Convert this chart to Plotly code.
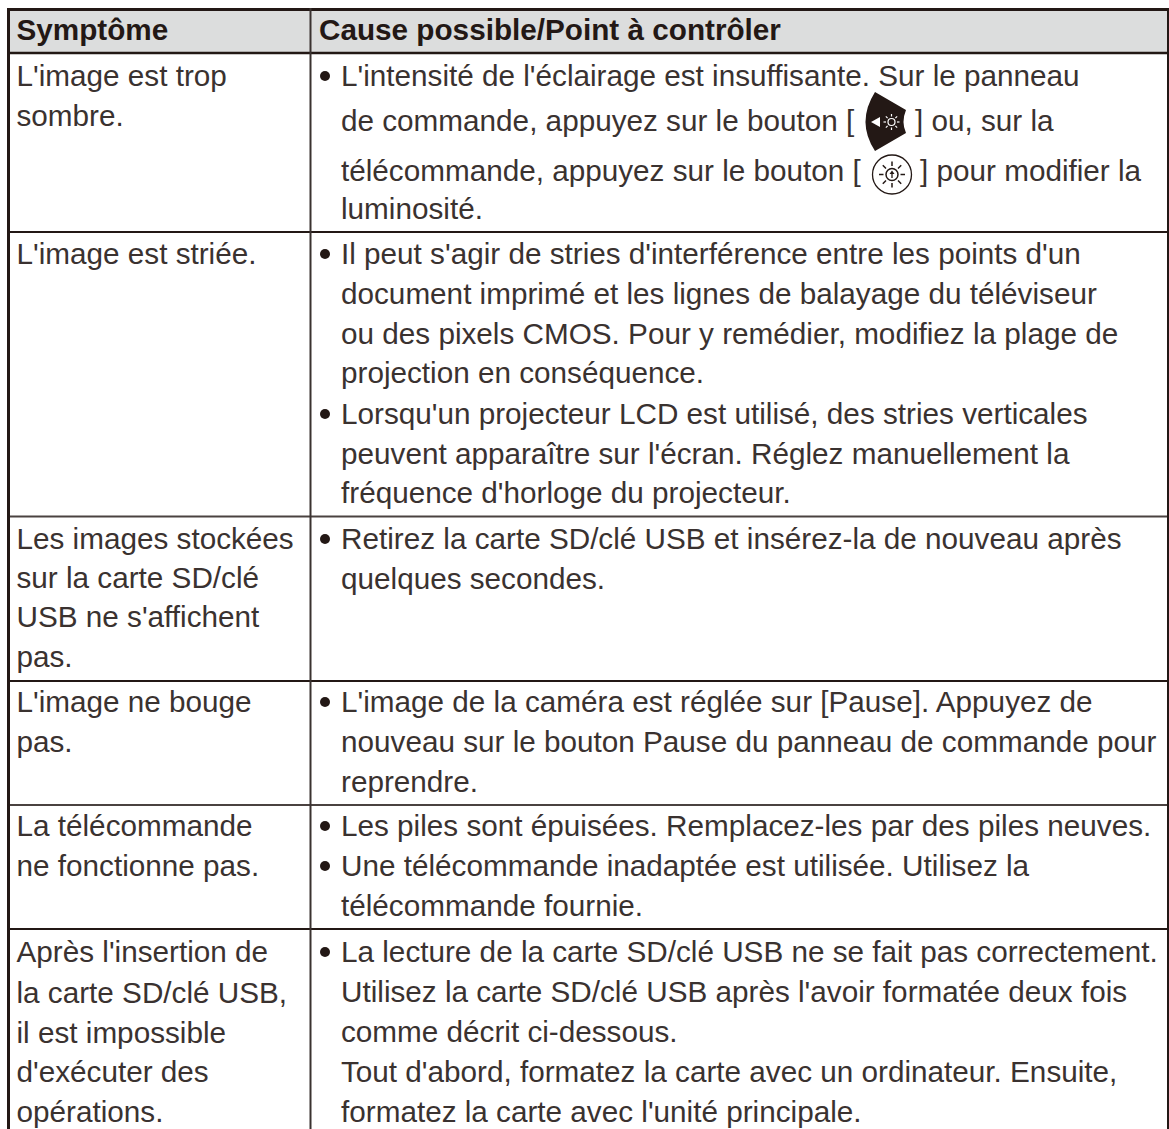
import math
import plotly.graph_objects as go

# ---------- table content ----------
header = ["Symptôme", "Cause possible/Point à contrôler"]
symptoms = [
    ["L'image est trop", "sombre."],
    ["L'image est striée."],
    ["Les images stockées", "sur la carte SD/clé", "USB ne s'affichent", "pas."],
    ["L'image ne bouge", "pas."],
    ["La télécommande", "ne fonctionne pas."],
    ["Après l'insertion de", "la carte SD/clé USB,", "il est impossible", "d'exécuter des", "opérations."],
]
causes = [
    ["L'intensité de l'éclairage est insuffisante. Sur le panneau",
     "de commande, appuyez sur le bouton [",
     "télécommande, appuyez sur le bouton [",
     "luminosité."],
    ["Il peut s'agir de stries d'interférence entre les points d'un",
     "document imprimé et les lignes de balayage du téléviseur",
     "ou des pixels CMOS. Pour y remédier, modifiez la plage de",
     "projection en conséquence.",
     "Lorsqu'un projecteur LCD est utilisé, des stries verticales",
     "peuvent apparaître sur l'écran. Réglez manuellement la",
     "fréquence d'horloge du projecteur."],
    ["Retirez la carte SD/clé USB et insérez-la de nouveau après",
     "quelques secondes."],
    ["L'image de la caméra est réglée sur [Pause]. Appuyez de",
     "nouveau sur le bouton Pause du panneau de commande pour",
     "reprendre."],
    ["Les piles sont épuisées. Remplacez-les par des piles neuves.",
     "Une télécommande inadaptée est utilisée. Utilisez la",
     "télécommande fournie."],
    ["La lecture de la carte SD/clé USB ne se fait pas correctement.",
     "Utilisez la carte SD/clé USB après l'avoir formatée deux fois",
     "comme décrit ci-dessous.",
     "Tout d'abord, formatez la carte avec un ordinateur. Ensuite,",
     "formatez la carte avec l'unité principale."],
]
icon_tails = ["] ou, sur la", "] pour modifier la"]

# ---------- layout constants (pixels of the page) ----------
W, H = 1169, 1129
FS = 29.7
INK = "#3a3230"
LINE = "#231815"
X_SYM, X_BUL, X_CAUSE, X_HEAD2 = 16.5, 325, 341, 319
BASE_HEADER = 41
BASE_SYM = [[87, 127], [265], [550, 589, 628, 668], [713, 753], [837, 877], [963, 1004, 1044, 1083, 1123]]
BASE_CAUSE = [[87, 132, 182, 220],
              [265, 305, 345, 384, 425, 465, 504.5],
              [550, 590],
              [713, 753, 793],
              [837, 877, 917],
              [963, 1003, 1043, 1083, 1123]]
BULLET_LINES = [[0], [0, 4], [0], [0], [0, 1], [0]]
ROW_RULES = [(53, 2.5, LINE), (232, 2, LINE), (516.5, 2, "#4a4240"), (681, 2, LINE),
             (805, 2, "#4a4240"), (929, 2, LINE)]


def text_trace(xs, bases, labels, bold=False):
    size = FS
    return go.Scatter(
        x=xs, y=[b - 0.3 * size for b in bases], text=labels,
        mode="text", textposition="middle right", hoverinfo="skip", showlegend=False,
        cliponaxis=False,
        textfont=dict(family="Liberation Sans", size=size, color=LINE if bold else INK,
                      weight="bold" if bold else "normal"),
    )


fig = go.Figure()

# header
fig.add_trace(text_trace([X_SYM, X_HEAD2], [BASE_HEADER] * 2, header, bold=True))

# symptoms
sx, sb, st = [], [], []
for lines, bases in zip(symptoms, BASE_SYM):
    for t, b in zip(lines, bases):
        sx.append(X_SYM); sb.append(b); st.append(t)
fig.add_trace(text_trace(sx, sb, st))

# causes
cx, cb, ct = [], [], []
for lines, bases in zip(causes, BASE_CAUSE):
    for t, b in zip(lines, bases):
        cx.append(X_CAUSE); cb.append(b); ct.append(t)
fig.add_trace(text_trace(cx, cb, ct))

# text following the two icons
fig.add_trace(text_trace([915, 920], [BASE_CAUSE[0][1], BASE_CAUSE[0][2]], icon_tails))

# bullets
bx, by = [], []
for bases, idx in zip(BASE_CAUSE, BULLET_LINES):
    for i in idx:
        bx.append(X_BUL); by.append(bases[i] - 11)
fig.add_trace(go.Scatter(x=bx, y=by, mode="markers", hoverinfo="skip", showlegend=False,
                         marker=dict(size=10, color=LINE, line=dict(width=0))))

shapes = []
# header band
shapes.append(dict(type="rect", x0=8, x1=1168, y0=10, y1=53, fillcolor="#dcdddd", line=dict(width=0), layer="below"))


def hline(y, w, c=LINE, x0=8, x1=1169):
    shapes.append(dict(type="line", x0=x0, x1=x1, y0=y, y1=y, line=dict(color=c, width=w)))


def vline(x, w, c=LINE, y0=8, y1=H):
    shapes.append(dict(type="line", x0=x, x1=x, y0=y0, y1=y1, line=dict(color=c, width=w)))


hline(9.5, 3)
for y, w, c in ROW_RULES:
    hline(y, w, c)
vline(8.5, 3)
vline(310.5, 2, "#3a3230")
vline(1168, 2)

# control-panel button icon
shapes.append(dict(type="path",
                   path="M 875,92 L 906,110 Q 901,122 906,133 L 875,151 Q 856,122 875,92 Z",
                   fillcolor=LINE, line=dict(width=0)))
shapes.append(dict(type="path", path="M 871,122 L 880,117 L 880,127 Z", fillcolor="white", line=dict(width=0)))


def sun(cx0, cy0, r, r1, r2, color, w):
    shapes.append(dict(type="circle", x0=cx0 - r, x1=cx0 + r, y0=cy0 - r, y1=cy0 + r,
                       line=dict(color=color, width=w), fillcolor="rgba(0,0,0,0)"))
    for k in range(8):
        a = k * math.pi / 4
        shapes.append(dict(type="line", x0=cx0 + r1 * math.cos(a), y0=cy0 + r1 * math.sin(a),
                           x1=cx0 + r2 * math.cos(a), y1=cy0 + r2 * math.sin(a),
                           line=dict(color=color, width=w)))


sun(891.5, 122, 3.5, 5.5, 8, "white", 1.2)

# remote-control icon
shapes.append(dict(type="circle", x0=872.5, x1=911.5, y0=155, y1=194, line=dict(color=LINE, width=1.3),
                   fillcolor="white"))
sun(892, 174.5, 6, 8.5, 13, LINE, 1.5)
shapes.append(dict(type="line", x0=892, x1=892, y0=178, y1=172, line=dict(color=LINE, width=1.3)))
shapes.append(dict(type="path", path="M 889.5,174 L 892,170.5 L 894.5,174 Z", fillcolor=LINE, line=dict(width=0)))

fig.update_layout(
    width=W, height=H, margin=dict(l=0, r=0, t=0, b=0),
    paper_bgcolor="white", plot_bgcolor="white", shapes=shapes, showlegend=False,
    xaxis=dict(range=[0, W], visible=False, fixedrange=True),
    yaxis=dict(range=[H, 0], visible=False, fixedrange=True),
)
fig.write_html("out.html", config=dict(displayModeBar=False),
               post_script="document.body.style.margin='0';document.documentElement.style.overflow='hidden';")
